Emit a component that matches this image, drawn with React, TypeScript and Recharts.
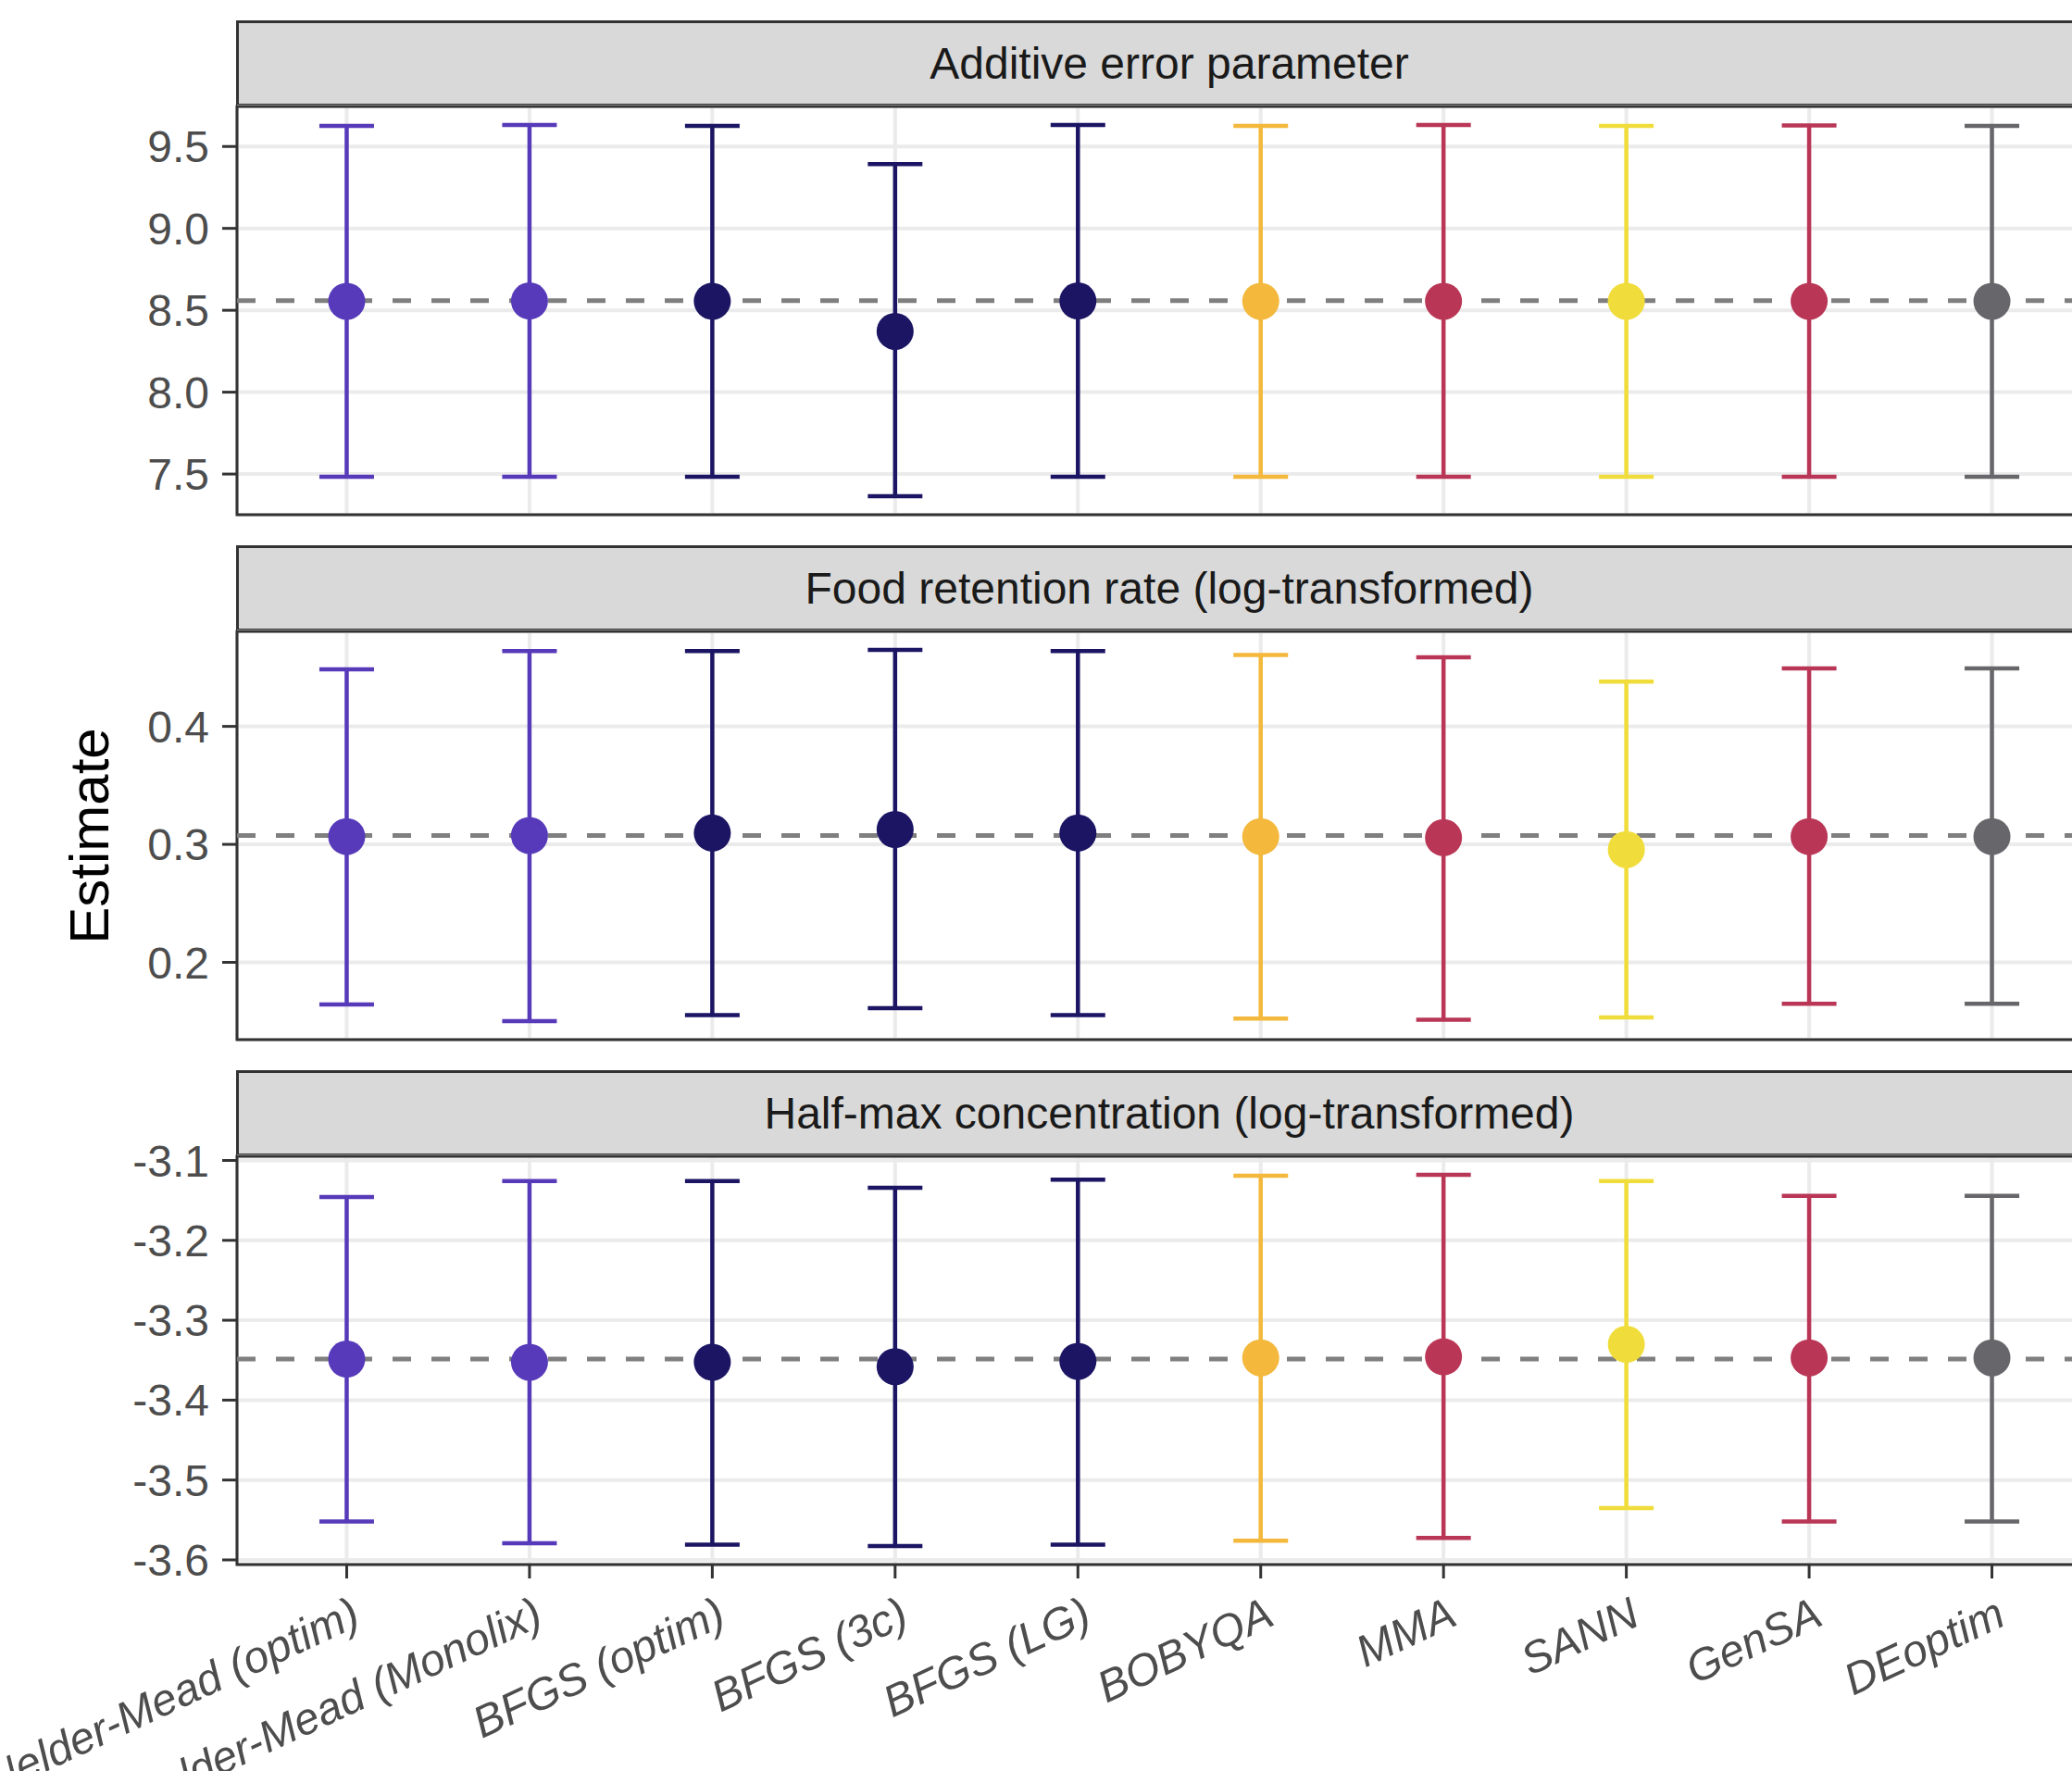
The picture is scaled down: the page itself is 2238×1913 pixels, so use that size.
import React from "react";
import {
  ScatterChart,
  Scatter,
  XAxis,
  YAxis,
  CartesianGrid,
  ErrorBar,
  ReferenceLine,
  ReferenceArea,
} from "recharts";

const METHODS = [
  "Nelder-Mead (optim)",
  "Nelder-Mead (Monolix)",
  "BFGS (optim)",
  "BFGS (3c)",
  "BFGS (LG)",
  "BOBYQA",
  "MMA",
  "SANN",
  "GenSA",
  "DEoptim",
];

const METHOD_COLORS = [
  "#563AB9",
  "#563AB9",
  "#1B1563",
  "#1B1563",
  "#1B1563",
  "#F3B83C",
  "#B93656",
  "#F0DD3B",
  "#B93656",
  "#67676B",
];

// Additive error parameter
const ADD_EST = [8.555, 8.557, 8.555, 8.371, 8.557, 8.555, 8.555, 8.555, 8.555, 8.555];
const ADD_LO = [7.484, 7.484, 7.484, 7.365, 7.484, 7.484, 7.484, 7.484, 7.484, 7.484];
const ADD_HI = [9.625, 9.631, 9.625, 9.392, 9.631, 9.625, 9.631, 9.625, 9.628, 9.625];
const ADD_REF = 8.559;
const ADD_TICKS = [7.5, 8, 8.5, 9, 9.5];

// Food retention rate (log-transformed)
const FOOD_EST = [0.3066, 0.3075, 0.3096, 0.3126, 0.3096, 0.3066, 0.3057, 0.2956, 0.3066, 0.3066];
const FOOD_LO = [0.1642, 0.1502, 0.1552, 0.1612, 0.1552, 0.1523, 0.1514, 0.1534, 0.1648, 0.1648];
const FOOD_HI = [0.4484, 0.4639, 0.4639, 0.4648, 0.4639, 0.4605, 0.4585, 0.4379, 0.4492, 0.4492];
const FOOD_REF = 0.3075;
const FOOD_TICKS = [0.2, 0.3, 0.4];

// Half-max concentration (log-transformed)
const HALF_EST = [-3.3486, -3.3525, -3.3525, -3.3581, -3.3514, -3.347, -3.3458, -3.3301, -3.347, -3.347];
const HALF_LO = [-3.5519, -3.5793, -3.581, -3.5826, -3.581, -3.576, -3.5726, -3.5351, -3.5519, -3.5519];
const HALF_HI = [-3.1459, -3.1258, -3.1258, -3.1342, -3.124, -3.119, -3.118, -3.1258, -3.1442, -3.1442];
const HALF_REF = -3.3486;
const HALF_TICKS = [-3.6, -3.5, -3.4, -3.3, -3.2, -3.1];

const FONT = "'Liberation Sans', Arial, sans-serif";
const PLOT_LEFT = 256;
const PLOT_W = 2014;
const STRIP_H = 93;
const PLOT_H = 441;
const PAD = 4;
const PAD_TOP = 34; // room for tick labels that sit at the very top of a panel
const X_AXIS_H = 230;
const X_DOMAIN: [number, number] = [-0.6, METHODS.length - 1 + 0.6];
const X_TICKS = METHODS.map((_, i) => i);

function MethodTick(props: any) {
  const { x, y, payload } = props;
  return (
    <g transform={`translate(${x},${y})`}>
      <text
        transform="rotate(-25)"
        textAnchor="end"
        dy={40}
        fill="#4D4D4D"
        fontSize={48}
        fontStyle="italic"
        fontFamily={FONT}
      >
        {METHODS[payload.value]}
      </text>
    </g>
  );
}

interface PanelProps {
  title: string;
  est: number[];
  lo: number[];
  hi: number[];
  refValue: number;
  ticks: number[];
  digits: number;
  top: number;
  showX?: boolean;
}

function Panel({ title, est, lo, hi, refValue, ticks, digits, top, showX }: PanelProps) {
  const min = Math.min(...lo);
  const max = Math.max(...hi);
  const pad = (max - min) * 0.05;
  const domain: [number, number] = [min - pad, max + pad];
  const height = PAD_TOP + PLOT_H + (showX ? X_AXIS_H : 0) + PAD;

  return (
    <>
      <div
        style={{
          position: "absolute",
          left: PLOT_LEFT - 1.5,
          top,
          width: PLOT_W + 3,
          height: STRIP_H,
          boxSizing: "border-box",
          border: "3px solid #333333",
          background: "#D9D9D9",
          display: "flex",
          alignItems: "center",
          justifyContent: "center",
          fontFamily: FONT,
          fontSize: 48,
          color: "#1A1A1A",
        }}
      >
        {title}
      </div>
      <div style={{ position: "absolute", left: 0, top: top + STRIP_H - PAD_TOP }}>
        <ScatterChart
          width={PLOT_LEFT + PLOT_W + PAD}
          height={height}
          margin={{ top: PAD_TOP, right: PAD, bottom: PAD, left: 0 }}
        >
          <CartesianGrid stroke="#EBEBEB" strokeWidth={4} />
          <XAxis
            type="number"
            dataKey="x"
            domain={X_DOMAIN}
            ticks={X_TICKS}
            interval={0}
            allowDataOverflow
            hide={!showX}
            height={showX ? X_AXIS_H : 0}
            axisLine={false}
            tickSize={15}
            tickMargin={13}
            tickLine={{ stroke: "#333333", strokeWidth: 3 }}
            tick={<MethodTick />}
          />
          <YAxis
            type="number"
            dataKey="y"
            domain={domain}
            ticks={ticks}
            interval={0}
            allowDataOverflow
            width={PLOT_LEFT}
            axisLine={false}
            tickSize={16}
            tickMargin={14}
            tickLine={{ stroke: "#333333", strokeWidth: 3 }}
            tick={{ fill: "#4D4D4D", fontSize: 48, fontFamily: FONT }}
            tickFormatter={(v: number) => v.toFixed(digits)}
          />
          <ReferenceLine
            y={refValue}
            stroke="#7F7F7F"
            strokeWidth={5}
            strokeDasharray="20 22"
          />
          {METHODS.map((m, i) => (
            <Scatter
              key={m}
              name={m}
              data={[{ x: i, y: est[i], err: [est[i] - lo[i], hi[i] - est[i]] }]}
              fill={METHOD_COLORS[i]}
              isAnimationActive={false}
              shape={(p: any) => <circle cx={p.cx} cy={p.cy} r={20} fill={METHOD_COLORS[i]} />}
            >
              <ErrorBar
                dataKey="err"
                direction="y"
                width={29.5}
                stroke={METHOD_COLORS[i]}
                strokeWidth={4.5}
                isAnimationActive={false}
              />
            </Scatter>
          ))}
          <ReferenceArea
            x1={X_DOMAIN[0]}
            x2={X_DOMAIN[1]}
            y1={domain[0]}
            y2={domain[1]}
            fill="none"
            stroke="#333333"
            strokeWidth={3}
            fillOpacity={0}
          />
        </ScatterChart>
      </div>
    </>
  );
}

export default function App() {
  return (
    <div
      style={{
        position: "fixed",
        left: 0,
        top: 0,
        width: 2238,
        height: 1913,
        overflow: "hidden",
        background: "#FFFFFF",
        fontFamily: FONT,
      }}
    >
      <Panel
        title="Additive error parameter"
        est={ADD_EST}
        lo={ADD_LO}
        hi={ADD_HI}
        refValue={ADD_REF}
        ticks={ADD_TICKS}
        digits={1}
        top={22}
      />
      <Panel
        title="Food retention rate (log-transformed)"
        est={FOOD_EST}
        lo={FOOD_LO}
        hi={FOOD_HI}
        refValue={FOOD_REF}
        ticks={FOOD_TICKS}
        digits={1}
        top={589}
      />
      <Panel
        title="Half-max concentration (log-transformed)"
        est={HALF_EST}
        lo={HALF_LO}
        hi={HALF_HI}
        refValue={HALF_REF}
        ticks={HALF_TICKS}
        digits={1}
        top={1156}
        showX
      />
      <div
        style={{
          position: "absolute",
          left: 97,
          top: 903,
          transform: "translate(-50%, -50%) rotate(-90deg)",
          fontSize: 60,
          lineHeight: 1,
          color: "#000000",
          whiteSpace: "nowrap",
        }}
      >
        Estimate
      </div>
    </div>
  );
}
